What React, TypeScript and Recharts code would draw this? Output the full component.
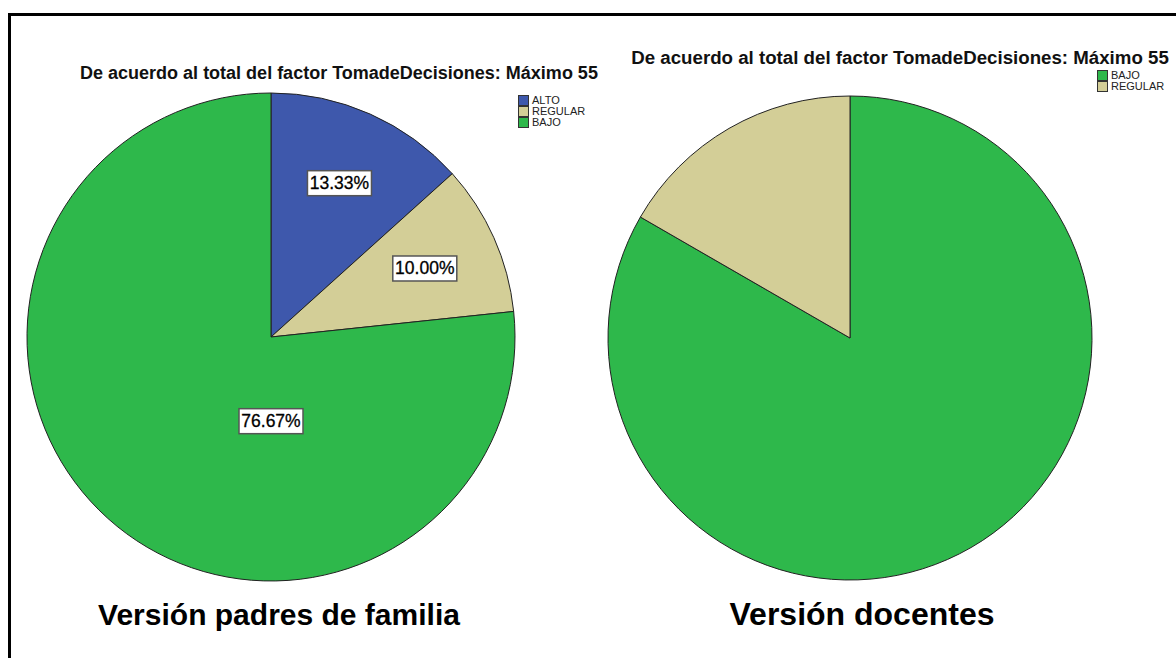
import React from 'react';
import { PieChart, Pie, Cell, Legend } from 'recharts';

const leftCategories = ['ALTO', 'REGULAR', 'BAJO'];
const leftValues = [13.33, 10.0, 76.67];
const rightCategories = ['BAJO', 'REGULAR'];
const rightValues = [83.33, 16.67];
const titleText = 'De acuerdo al total del factor TomadeDecisiones: Máximo 55';
const captions = ['Versión padres de familia', 'Versión docentes'];

const COLORS: Record<string, string> = {
  ALTO: '#3E58AC',
  REGULAR: '#D3CE97',
  BAJO: '#2EB84B',
};

const leftData = leftCategories.map((name, i) => ({ name, value: leftValues[i] }));
const rightData = rightCategories.map((name, i) => ({ name, value: rightValues[i] }));

const FONT = '"Liberation Sans", Arial, sans-serif';
const RAD = Math.PI / 180;

const renderLabel = (props: any) => {
  const { cx, cy, midAngle, outerRadius, percent, value } = props;
  let x: number;
  let y: number;
  if (percent > 0.5) {
    x = cx;
    y = cy + outerRadius * 0.345;
  } else {
    const r = outerRadius * 0.69;
    x = cx + r * Math.cos(-midAngle * RAD);
    y = cy + r * Math.sin(-midAngle * RAD);
  }
  const text = `${Number(value).toFixed(2)}%`;
  const w = 64;
  const h = 25;
  return (
    <g>
      <rect x={x - w / 2} y={y - h / 2} width={w} height={h} fill="#ffffff" stroke="#555555" strokeWidth={1.5} />
      <text x={x} y={y + 6} textAnchor="middle" fontFamily={FONT} fontSize={17.5} fill="#000000" stroke="#000000" strokeWidth={0.3}>
        {text}
      </text>
    </g>
  );
};

const LegendBox = ({ items }: { items: string[] }) => (
  <div style={{ fontFamily: FONT, fontSize: 11, color: '#222', lineHeight: '11px' }}>
    {items.map((n) => (
      <div key={n} style={{ display: 'flex', alignItems: 'center', height: 11 }}>
        <span
          style={{
            display: 'inline-block',
            width: 9,
            height: 9,
            background: COLORS[n],
            border: '1px solid #333',
            marginRight: 3,
          }}
        />
        <span>{n}</span>
      </div>
    ))}
  </div>
);

const titleStyle = {
  position: 'absolute' as const,
  width: 700,
  textAlign: 'center' as const,
  fontWeight: 'bold' as const,
  fontSize: 18,
  lineHeight: '18px',
  color: '#111',
};

const captionStyle = {
  position: 'absolute' as const,
  width: 600,
  top: 600,
  textAlign: 'center' as const,
  fontWeight: 'bold' as const,
  fontSize: 30,
  lineHeight: '30px',
  color: '#000',
};

export default function App() {
  return (
    <div
      style={{
        position: 'absolute',
        left: 0,
        top: 0,
        width: 1176,
        height: 658,
        overflow: 'hidden',
        background: '#ffffff',
        fontFamily: FONT,
      }}
    >
      <div
        style={{
          position: 'absolute',
          left: 8,
          top: 13,
          width: 1400,
          height: 900,
          border: '3px solid #000',
        }}
      />
      <div style={{ position: 'absolute', left: 0, top: 0 }}>
        <PieChart width={588} height={658} margin={{ top: 0, right: 0, bottom: 0, left: 0 }}>
          <Pie
            data={leftData}
            dataKey="value"
            nameKey="name"
            cx={271}
            cy={337}
            outerRadius={244}
            startAngle={90}
            endAngle={-270}
            stroke="#222"
            strokeWidth={1}
            label={renderLabel}
            labelLine={false}
            isAnimationActive={false}
          >
            {leftData.map((d) => (
              <Cell key={d.name} fill={COLORS[d.name]} />
            ))}
          </Pie>
          <Legend
            content={() => <LegendBox items={leftCategories} />}
            wrapperStyle={{ position: 'absolute', left: 518, top: 95, width: 80 }}
          />
        </PieChart>
      </div>
      <div style={{ position: 'absolute', left: 588, top: 0 }}>
        <PieChart width={588} height={658} margin={{ top: 0, right: 0, bottom: 0, left: 0 }}>
          <Pie
            data={rightData}
            dataKey="value"
            nameKey="name"
            cx={262}
            cy={338}
            outerRadius={242}
            startAngle={90}
            endAngle={-270}
            stroke="#222"
            strokeWidth={1}
            labelLine={false}
            isAnimationActive={false}
          >
            {rightData.map((d) => (
              <Cell key={d.name} fill={COLORS[d.name]} />
            ))}
          </Pie>
          <Legend
            content={() => <LegendBox items={rightCategories} />}
            wrapperStyle={{ position: 'absolute', left: 509, top: 70, width: 80 }}
          />
        </PieChart>
      </div>
      <div style={{ ...titleStyle, left: 339 - 350, top: 64 }}>{titleText}</div>
      <div style={{ ...titleStyle, left: 900 - 350, top: 49, fontSize: 18.7 }}>{titleText}</div>
      <div style={{ ...captionStyle, left: 279 - 300 }}>{captions[0]}</div>
      <div style={{ ...captionStyle, left: 862 - 300, fontSize: 32, top: 599 }}>{captions[1]}</div>
    </div>
  );
}
